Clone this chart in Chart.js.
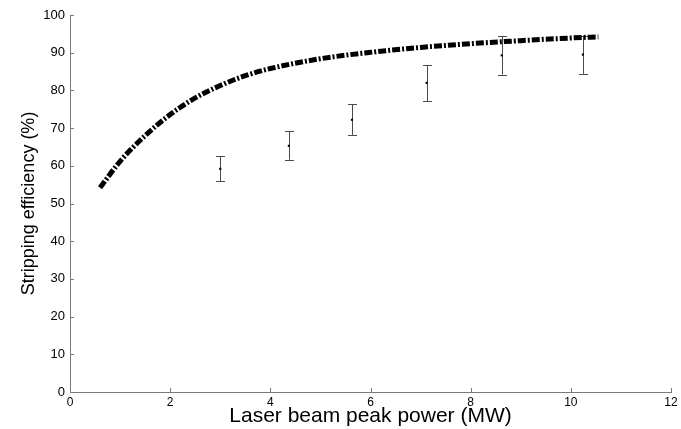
<!DOCTYPE html>
<html>
<head>
<meta charset="utf-8">
<script src="https://cdn.jsdelivr.net/npm/chart.js@4.4.1/dist/chart.umd.min.js"></script>
<style>
  html, body { margin: 0; padding: 0; background: #ffffff; }
  #wrap { width: 681px; height: 429px; position: relative; }
</style>
</head>
<body>
<div id="wrap"><canvas id="c" width="681" height="429"></canvas></div>
<script>
// Fitted curve (model)
const curvePower = [0.6, 1.0, 1.5, 2.0, 2.5, 3.0, 3.5, 4.0, 5.0, 6.0, 7.0, 8.0, 9.0, 10.0, 10.55];
const curveEfficiency = [54.2, 61.2, 68.0, 73.6, 78.0, 81.3, 83.9, 85.8, 88.4, 90.1, 91.4, 92.4, 93.2, 93.9, 94.2];

// Measured points with error bars
const measPower = [3.0, 4.37, 5.63, 7.12, 8.62, 10.24];
const measEfficiency = [59.2, 65.3, 72.2, 82.0, 89.3, 89.5];
const errLow = [55.9, 61.6, 68.2, 77.2, 84.2, 84.4];
const errHigh = [62.5, 69.1, 76.3, 86.7, 94.4, 94.5];

// Axis ticks
const xTicks = [0, 2, 4, 6, 8, 10, 12];
const yTicks = [0, 10, 20, 30, 40, 50, 60, 70, 80, 90, 100];

const FONT = '"Liberation Sans", Arial, sans-serif';
const AXIS_COLOR = '#7a7a7a';

const errorBarPlugin = {
  id: 'errorBars',
  beforeDatasetsDraw(chart) {
    const ctx = chart.ctx;
    const xs = chart.scales.x, ys = chart.scales.y;
    ctx.save();
    ctx.strokeStyle = '#4a4a4a';
    ctx.lineWidth = 1;
    for (let i = 0; i < measPower.length; i++) {
      const px = Math.round(xs.getPixelForValue(measPower[i])) + 0.5;
      const yl = ys.getPixelForValue(errLow[i]);
      const yh = ys.getPixelForValue(errHigh[i]);
      ctx.beginPath();
      ctx.moveTo(px, yl); ctx.lineTo(px, yh);
      ctx.moveTo(px - 4.5, Math.round(yl) + 0.5); ctx.lineTo(px + 4.5, Math.round(yl) + 0.5);
      ctx.moveTo(px - 4.5, Math.round(yh) + 0.5); ctx.lineTo(px + 4.5, Math.round(yh) + 0.5);
      ctx.stroke();
    }
    ctx.restore();
  },
  afterDraw(chart) {
    // inside tick marks
    const ctx = chart.ctx;
    const xs = chart.scales.x, ys = chart.scales.y;
    const a = chart.chartArea;
    ctx.save();
    ctx.strokeStyle = AXIS_COLOR;
    ctx.lineWidth = 1;
    ctx.beginPath();
    xTicks.forEach(v => {
      const px = Math.round(xs.getPixelForValue(v)) + 0.5;
      ctx.moveTo(px, a.bottom); ctx.lineTo(px, a.bottom - 4);
    });
    yTicks.forEach(v => {
      const py = Math.round(ys.getPixelForValue(v)) + 0.5;
      ctx.moveTo(a.left, py); ctx.lineTo(a.left + 4, py);
    });
    ctx.stroke();
    ctx.restore();
  }
};

new Chart(document.getElementById('c'), {
  type: 'scatter',
  data: {
    datasets: [
      {
        label: 'Model',
        data: curvePower.map((x, i) => ({ x, y: curveEfficiency[i] })),
        showLine: true,
        borderColor: '#000000',
        borderWidth: 5,
        borderDash: [8, 2, 2, 2],
        borderCapStyle: 'butt',
        cubicInterpolationMode: 'monotone',
        pointRadius: 0,
        fill: false,
        order: 1
      },
      {
        label: 'Measured',
        data: measPower.map((x, i) => ({ x, y: measEfficiency[i] })),
        showLine: false,
        pointStyle: 'rect',
        pointRadius: 1.5,
        backgroundColor: '#000000',
        borderColor: '#000000',
        borderWidth: 0,
        order: 2
      }
    ]
  },
  options: {
    responsive: false,
    animation: false,
    devicePixelRatio: 1,
    layout: { padding: { top: 15, right: 10, left: 0, bottom: 0 } },
    plugins: {
      legend: { display: false },
      tooltip: { enabled: false }
    },
    scales: {
      x: {
        type: 'linear',
        min: 0, max: 12,
        afterBuildTicks: (s) => { s.ticks = xTicks.map(v => ({ value: v })); },
        afterFit: (s) => { s.height = 37; },
        grid: { display: true, drawOnChartArea: false, drawTicks: false },
        border: { display: true, color: AXIS_COLOR, width: 1 },
        ticks: { color: '#000', padding: 3, font: { family: FONT, size: 12 }, maxRotation: 0 },
        title: {
          display: true,
          text: 'Laser beam peak power (MW)',
          color: '#000',
          font: { family: FONT, size: 21 },
          padding: { top: 0, bottom: 0 }
        }
      },
      y: {
        type: 'linear',
        min: 0, max: 100,
        afterBuildTicks: (s) => { s.ticks = yTicks.map(v => ({ value: v })); },
        afterFit: (s) => { s.width = 70; },
        grid: { display: true, drawOnChartArea: false, drawTicks: false },
        border: { display: true, color: AXIS_COLOR, width: 1 },
        ticks: { color: '#000', padding: 5, font: { family: FONT, size: 13 } },
        title: {
          display: true,
          text: 'Stripping efficiency (%)',
          color: '#000',
          font: { family: FONT, size: 18 },
          padding: { top: 18, bottom: 0 }
        }
      }
    }
  },
  plugins: [errorBarPlugin]
});
</script>
</body>
</html>
